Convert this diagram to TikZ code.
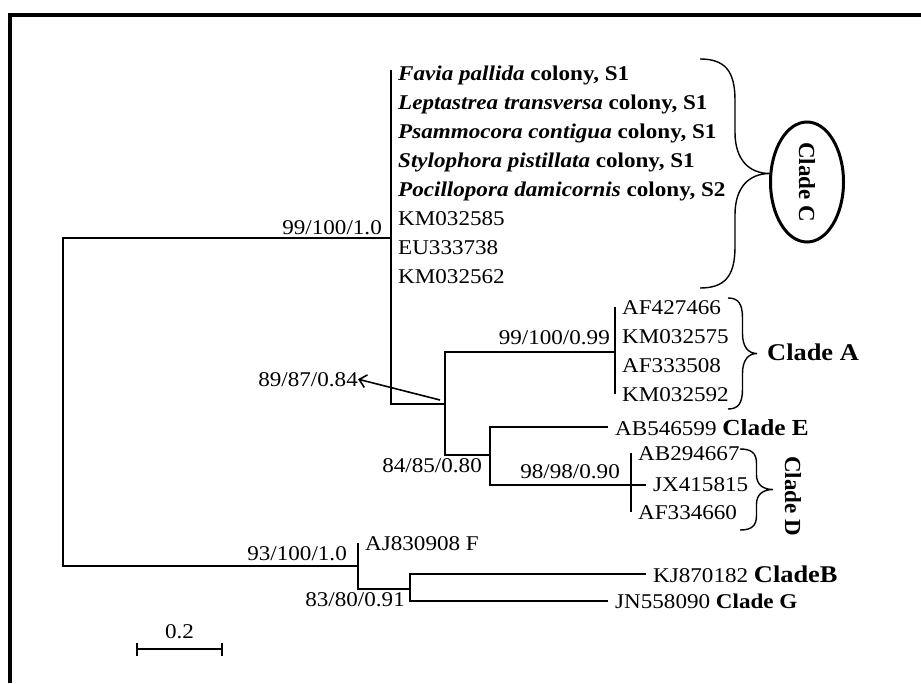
\documentclass[tikz,border=0pt]{standalone}
\usepackage{fontspec}
\setmainfont[FakeStretch=1.1]{Liberation Serif}
\newfontfamily\uprightlabel{Liberation Serif}
\usetikzlibrary{shapes.geometric,arrows.meta,calc}

\tikzset{
  branch/.style={line width=2.4pt},
  leaf/.style={anchor=base west, inner xsep=7pt, inner ysep=2pt, font=\fontsize{21}{25}\selectfont},
  support/.style={anchor=base east, inner sep=0pt, font=\fontsize{21}{25}\selectfont},
  cladename/.style={inner sep=0pt, font=\bfseries\fontsize{24}{28}\selectfont},
  sidename/.style={inner sep=0pt, rotate=-90, font=\uprightlabel\bfseries\fontsize{23}{27}\selectfont},
  bracket/.style={line width=1.4pt},
}
\newcommand{\cladetag}[2][23]{{\bfseries\fontsize{#1}{#1}\selectfont #2}}
% curly bracket: x, top, bottom, depth
\newcommand{\cladebrace}[4]{%
  \draw[bracket] (#1,#2) .. controls ({#1+0.35*#4},#2) and ({#1+0.5*#4},{#2+0.05*(#3-#2)}) .. ({#1+0.5*#4},{#2+0.18*(#3-#2)})
    -- ({#1+0.5*#4},{(#2+#3)/2-0.18*(#3-#2)})
    .. controls ({#1+0.5*#4},{(#2+#3)/2-0.06*(#3-#2)}) and ({#1+0.7*#4},{(#2+#3)/2}) .. ({#1+#4},{(#2+#3)/2})
    .. controls ({#1+0.7*#4},{(#2+#3)/2}) and ({#1+0.5*#4},{(#2+#3)/2+0.06*(#3-#2)}) .. ({#1+0.5*#4},{(#2+#3)/2+0.18*(#3-#2)})
    -- ({#1+0.5*#4},{#3-0.18*(#3-#2)})
    .. controls ({#1+0.5*#4},{#3-0.05*(#3-#2)}) and ({#1+0.35*#4},#3) .. (#1,#3);
}

\begin{document}
\begin{tikzpicture}[x=1pt, y=-1pt]
  \useasboundingbox (0,0) rectangle (921,683);
  % frame
  \draw[line width=4pt] (9.5,683) -- (9.5,14.5) -- (921,14.5);

  % inner nodes of the tree
  \coordinate (R) at (63,400);
  \coordinate (C) at (391,238);
  \coordinate (Ctop) at (391,70);
  \coordinate (ADE) at (445,404);
  \coordinate (A) at (615,352);
  \coordinate (DE) at (490,455);
  \coordinate (D) at (631,485);
  \coordinate (BFG) at (358,566);
  \coordinate (BG) at (410,589);

  % clade C
  \foreach \txt [count=\i] in {%
      {\textbf{\textit{Favia pallida} colony, S1}},
      {\textbf{\textit{Leptastrea transversa} colony, S1}},
      {\textbf{\textit{Psammocora contigua} colony, S1}},
      {\textbf{\textit{Stylophora pistillata} colony, S1}},
      {\textbf{\textit{Pocillopora damicornis} colony, S2}},
      KM032585, EU333738, KM032562}
    \node[leaf] (c\i) at (391,{80+29.1*(\i-1)}) {\txt};

  % clade A
  \node[leaf] (a1) at (615,314) {AF427466};
  \node[leaf] (a2) at (615,343) {KM032575};
  \node[leaf] (a3) at (615,372) {AF333508};
  \node[leaf] (a4) at (615,401) {KM032592};

  % clade E and D
  \node[leaf] (e1) at (608,435) {AB546599 \cladetag{Clade E}};
  \node[leaf] (d1) at (631,460) {AB294667};
  \node[leaf] (d2) at (646,491) {JX415815};
  \node[leaf] (d3) at (631,519) {AF334660};

  % F, B, G
  \node[leaf] (f1) at (358,550) {AJ830908 F};
  \node[leaf] (b1) at (646,582) {KJ870182 \cladetag[24]{CladeB}};
  \node[leaf] (g1) at (608,608) {JN558090 \cladetag[21]{Clade G}};

  % branches
  \draw[branch] (C) -| (R);
  \draw[branch] (BFG) -| (R);
  \draw[branch] (Ctop) -- (C |- ADE) -- (ADE);
  \draw[branch] (ADE) |- (A);
  \draw[branch] (ADE) |- (DE);
  \draw[branch] (A |- a1.west) -- (A |- a4.west);
  \draw[branch] (DE) |- (e1.west);
  \draw[branch] (DE) |- (D);
  \draw[branch] (D |- d1.west) -- (D |- d3.west);
  \draw[branch] (D) -- (d2.west |- D);
  \draw[branch] (BFG |- f1.west) -- (BFG |- BG) -- (BG);
  \draw[branch] (b1.west) -| (BG) |- (g1.west);

  % support values
  \node[support] (s1) at (382,234) {99/100/1.0};
  \node[support] (s2) at (610,344) {99/100/0.99};
  \node[support] (s3) at (358,386) {89/87/0.84};
  \node[support] (s4) at (482,472) {84/85/0.80};
  \node[support] (s5) at (620,478) {98/98/0.90};
  \node[support] (s6) at (347,560) {93/100/1.0};
  \node[support] (s7) at (405,606) {83/80/0.91};
  \coordinate (p89) at (440,400);
  \draw[line width=1.6pt, -{Straight Barb[length=7pt, width=13pt]}] (p89) -- (s3.east);

  % clade brackets and names
  \cladebrace{700}{59}{288}{70}
  \cladebrace{728}{298}{409}{29}
  \cladebrace{740}{449}{530}{33}
  \node[sidename, ellipse, draw, line width=3pt, minimum width=120pt, minimum height=73pt] (lC) at (807,182) {Clade C};
  \node[cladename, anchor=base west] (lA) at (767,360) {Clade A};
  \node[sidename] (lD) at (793,496) {Clade D};

  % scale bar
  \coordinate (sbL) at (136,649);
  \coordinate (sbR) at (223,649);
  \draw[line width=2pt, {Bar[width=13pt]}-{Bar[width=13pt]}] (sbL) -- (sbR);
  \node[support, anchor=base] (sb) at (179.5,638) {0.2};
\end{tikzpicture}
\end{document}
